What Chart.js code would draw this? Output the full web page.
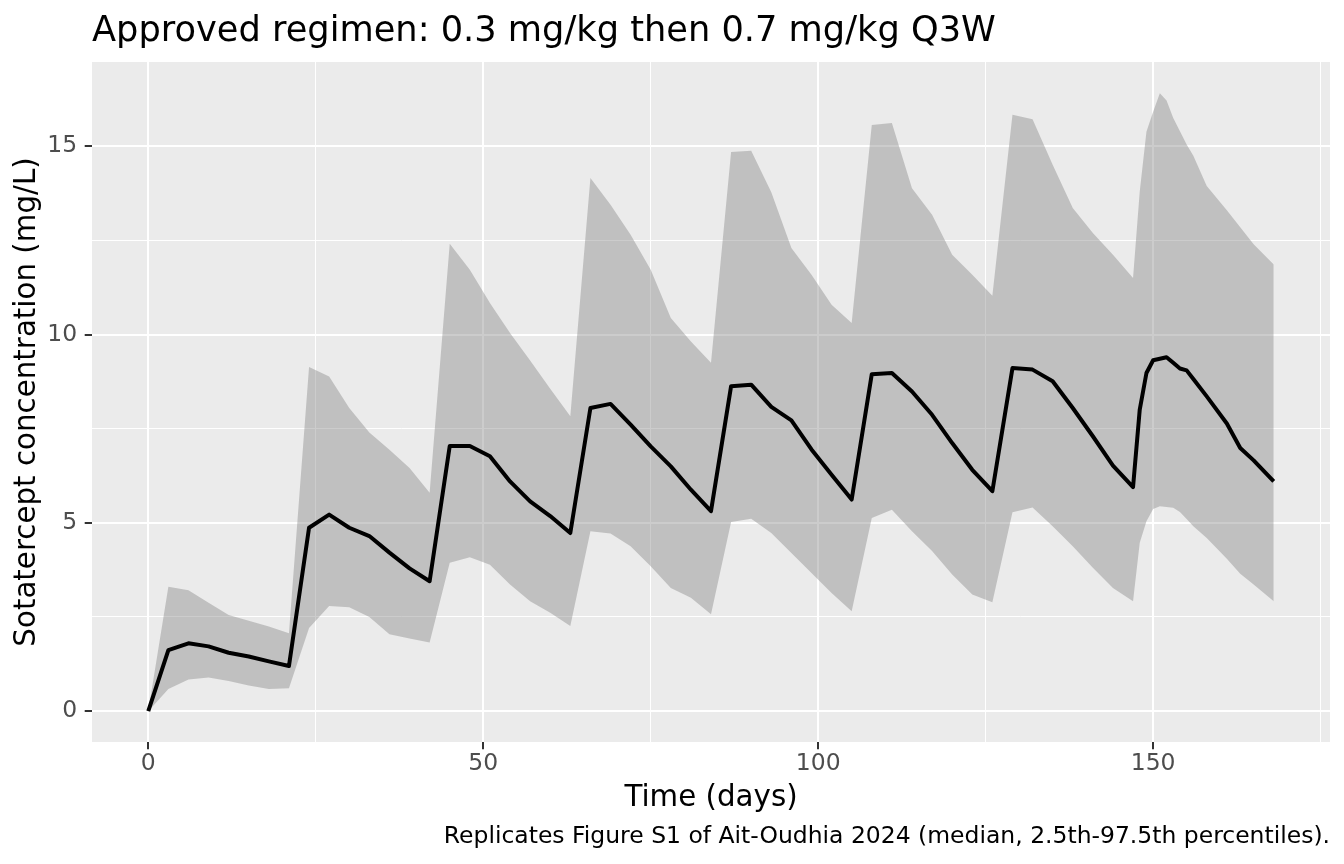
<!DOCTYPE html>
<html>
<head>
<meta charset="utf-8">
<title>Sotatercept concentration</title>
<script src="https://cdn.jsdelivr.net/npm/chart.js@4.4.1/dist/chart.umd.min.js"></script>
<style>
    html, body { margin: 0; padding: 0; background: #ffffff; }
    #chart { display: block; }
</style>
</head>
<body>
<canvas id="chart" width="1344" height="864"></canvas>
<script>
// Time points (days)
const times = [0, 3, 6, 9, 12, 15, 18, 21, 24, 27, 30, 33, 36, 39, 42, 45, 48, 51, 54, 57, 60, 63,
    66, 69, 72, 75, 78, 81, 84, 87, 90, 93, 96, 99, 102, 105, 108, 111, 114, 117, 120, 123, 126,
    129, 132, 135, 138, 141, 144, 147, 148, 149, 150, 151, 152, 153, 154, 155, 156, 158, 161, 163, 165, 168];

// Median concentration (mg/L)
const median = [0, 1.62, 1.80, 1.72, 1.55, 1.45, 1.32, 1.20, 4.87, 5.22, 4.87, 4.65, 4.21, 3.79, 3.45,
    7.04, 7.04, 6.77, 6.10, 5.57, 5.18, 4.73, 8.05, 8.16, 7.61, 7.03, 6.50, 5.88, 5.31,
    8.63, 8.67, 8.08, 7.72, 6.95, 6.28, 5.62, 8.95, 8.98, 8.49, 7.87, 7.12, 6.41, 5.84,
    9.11, 9.07, 8.76, 8.05, 7.30, 6.52, 5.95, 8.01, 8.98, 9.32, 9.36, 9.40, 9.25, 9.10, 9.05,
    8.82, 8.36, 7.64, 6.99, 6.66, 6.10];

// 97.5th percentile
const upper = [0, 3.30, 3.21, 2.88, 2.55, 2.40, 2.25, 2.07, 9.14, 8.89, 8.05, 7.40, 6.94, 6.46, 5.80,
    12.41, 11.72, 10.84, 10.04, 9.31, 8.56, 7.83, 14.16, 13.45, 12.65, 11.72, 10.44, 9.82, 9.25,
    14.85, 14.88, 13.78, 12.30, 11.59, 10.79, 10.31, 15.57, 15.62, 13.89, 13.18, 12.12, 11.59, 11.03,
    15.84, 15.72, 14.51, 13.36, 12.70, 12.12, 11.50, 13.80, 15.39, 15.92, 16.41, 16.22, 15.75, 15.40, 15.05,
    14.75, 13.95, 13.30, 12.85, 12.40, 11.86];

// 2.5th percentile
const lower = [0, 0.59, 0.84, 0.89, 0.80, 0.68, 0.59, 0.61, 2.21, 2.79, 2.76, 2.50, 2.04, 1.93, 1.82,
    3.94, 4.09, 3.89, 3.36, 2.92, 2.61, 2.26, 4.78, 4.72, 4.38, 3.85, 3.27, 3.01, 2.57,
    5.02, 5.11, 4.73, 4.20, 3.67, 3.14, 2.65, 5.13, 5.35, 4.78, 4.25, 3.63, 3.10, 2.89,
    5.28, 5.41, 4.91, 4.38, 3.81, 3.27, 2.92, 4.47, 5.04, 5.37, 5.44, 5.42, 5.40, 5.29, 5.10,
    4.91, 4.60, 4.05, 3.65, 3.36, 2.92];

// Grid breaks (major ones get labels)
const xBreaks = [0, 25, 50, 75, 100, 125, 150, 175];
const xLabels = [0, 50, 100, 150];
const yBreaks = [0, 2.5, 5, 7.5, 10, 12.5, 15];
const yLabels = [0, 5, 10, 15];

const titleText = 'Approved regimen: 0.3 mg/kg then 0.7 mg/kg Q3W';
const captionText = 'Replicates Figure S1 of Ait-Oudhia 2024 (median, 2.5th-97.5th percentiles).';

const FONT = "'DejaVu Sans', sans-serif";

const toPoints = (vals) => times.map((t, i) => ({ x: t, y: vals[i] }));

// panel background + title + caption, ggplot style
const ggTheme = {
    id: 'ggTheme',
    beforeDraw: (chart) => {
        const { ctx, chartArea } = chart;
        ctx.save();
        ctx.fillStyle = '#EBEBEB';
        ctx.fillRect(chartArea.left, chartArea.top, chartArea.right - chartArea.left, chartArea.bottom - chartArea.top);
        ctx.restore();
    },
    afterDraw: (chart) => {
        const { ctx, chartArea } = chart;
        ctx.save();
        ctx.fillStyle = '#000000';
        ctx.textBaseline = 'alphabetic';
        ctx.font = '35.2px ' + FONT;
        ctx.textAlign = 'left';
        ctx.fillText(titleText, chartArea.left, 41);
        ctx.font = '23.47px ' + FONT;
        ctx.textAlign = 'right';
        ctx.fillText(captionText, chartArea.right, 843);
        ctx.restore();
    }
};

const isMajor = (list, v) => list.some(m => Math.abs(m - v) < 1e-9);

// Chart.js paints dataset 0 last, so the median goes first to sit on top of the ribbon
new Chart(document.getElementById('chart'), {
    type: 'line',
    data: {
        datasets: [
            {
                label: 'Median',
                data: toPoints(median),
                borderColor: '#000000',
                borderWidth: 4,
                borderJoinStyle: 'round',
                pointRadius: 0,
                fill: false,
                tension: 0
            },
            {
                label: '2.5th percentile',
                data: toPoints(lower),
                borderColor: 'rgba(0,0,0,0)',
                borderWidth: 0,
                pointRadius: 0,
                fill: false
            },
            {
                label: '97.5th percentile',
                data: toPoints(upper),
                borderColor: 'rgba(0,0,0,0)',
                borderWidth: 0,
                pointRadius: 0,
                backgroundColor: 'rgba(127,127,127,0.4)',
                fill: '-1'
            }
        ]
    },
    options: {
        responsive: false,
        devicePixelRatio: 1,
        animation: false,
        layout: { padding: { top: 62, right: 14, bottom: 0, left: 0 } },
        plugins: {
            legend: { display: false },
            tooltip: { enabled: false }
        },
        scales: {
            x: {
                type: 'linear',
                min: -8.4,
                max: 176.4,
                afterBuildTicks: (s) => { s.ticks = xBreaks.map(v => ({ value: v })); },
                afterFit: (s) => { s.height = 122; },
                border: { display: false },
                grid: {
                    color: '#FFFFFF',
                    lineWidth: (c) => (c.tick && isMajor(xLabels, c.tick.value) ? 2 : 1),
                    tickColor: (c) => (c.tick && isMajor(xLabels, c.tick.value) ? '#333333' : 'rgba(0,0,0,0)'),
                    tickWidth: 2,
                    tickLength: 7.3
                },
                ticks: {
                    autoSkip: false,
                    maxRotation: 0,
                    padding: 1,
                    color: '#4D4D4D',
                    font: { family: FONT, size: 23.47 },
                    callback: (v) => (isMajor(xLabels, v) ? String(v) : '')
                },
                title: {
                    display: true,
                    text: 'Time (days)',
                    color: '#000000',
                    font: { family: FONT, size: 29.33 },
                    padding: { top: 0, bottom: 48 }
                }
            },
            y: {
                type: 'linear',
                min: -0.82,
                max: 17.24,
                afterBuildTicks: (s) => { s.ticks = yBreaks.map(v => ({ value: v })); },
                afterFit: (s) => { s.width = 92; },
                border: { display: false },
                grid: {
                    color: '#FFFFFF',
                    lineWidth: (c) => (c.tick && isMajor(yLabels, c.tick.value) ? 2 : 1),
                    tickColor: (c) => (c.tick && isMajor(yLabels, c.tick.value) ? '#333333' : 'rgba(0,0,0,0)'),
                    tickWidth: 2,
                    tickLength: 7.3
                },
                ticks: {
                    autoSkip: false,
                    padding: 7.5,
                    color: '#4D4D4D',
                    font: { family: FONT, size: 23.47 },
                    callback: (v) => (isMajor(yLabels, v) ? String(v) : '')
                },
                title: {
                    display: true,
                    text: 'Sotatercept concentration (mg/L)',
                    color: '#000000',
                    font: { family: FONT, size: 29.33 },
                    padding: { top: 10, bottom: 0 }
                }
            }
        }
    },
    plugins: [ggTheme]
});
</script>
</body>
</html>
